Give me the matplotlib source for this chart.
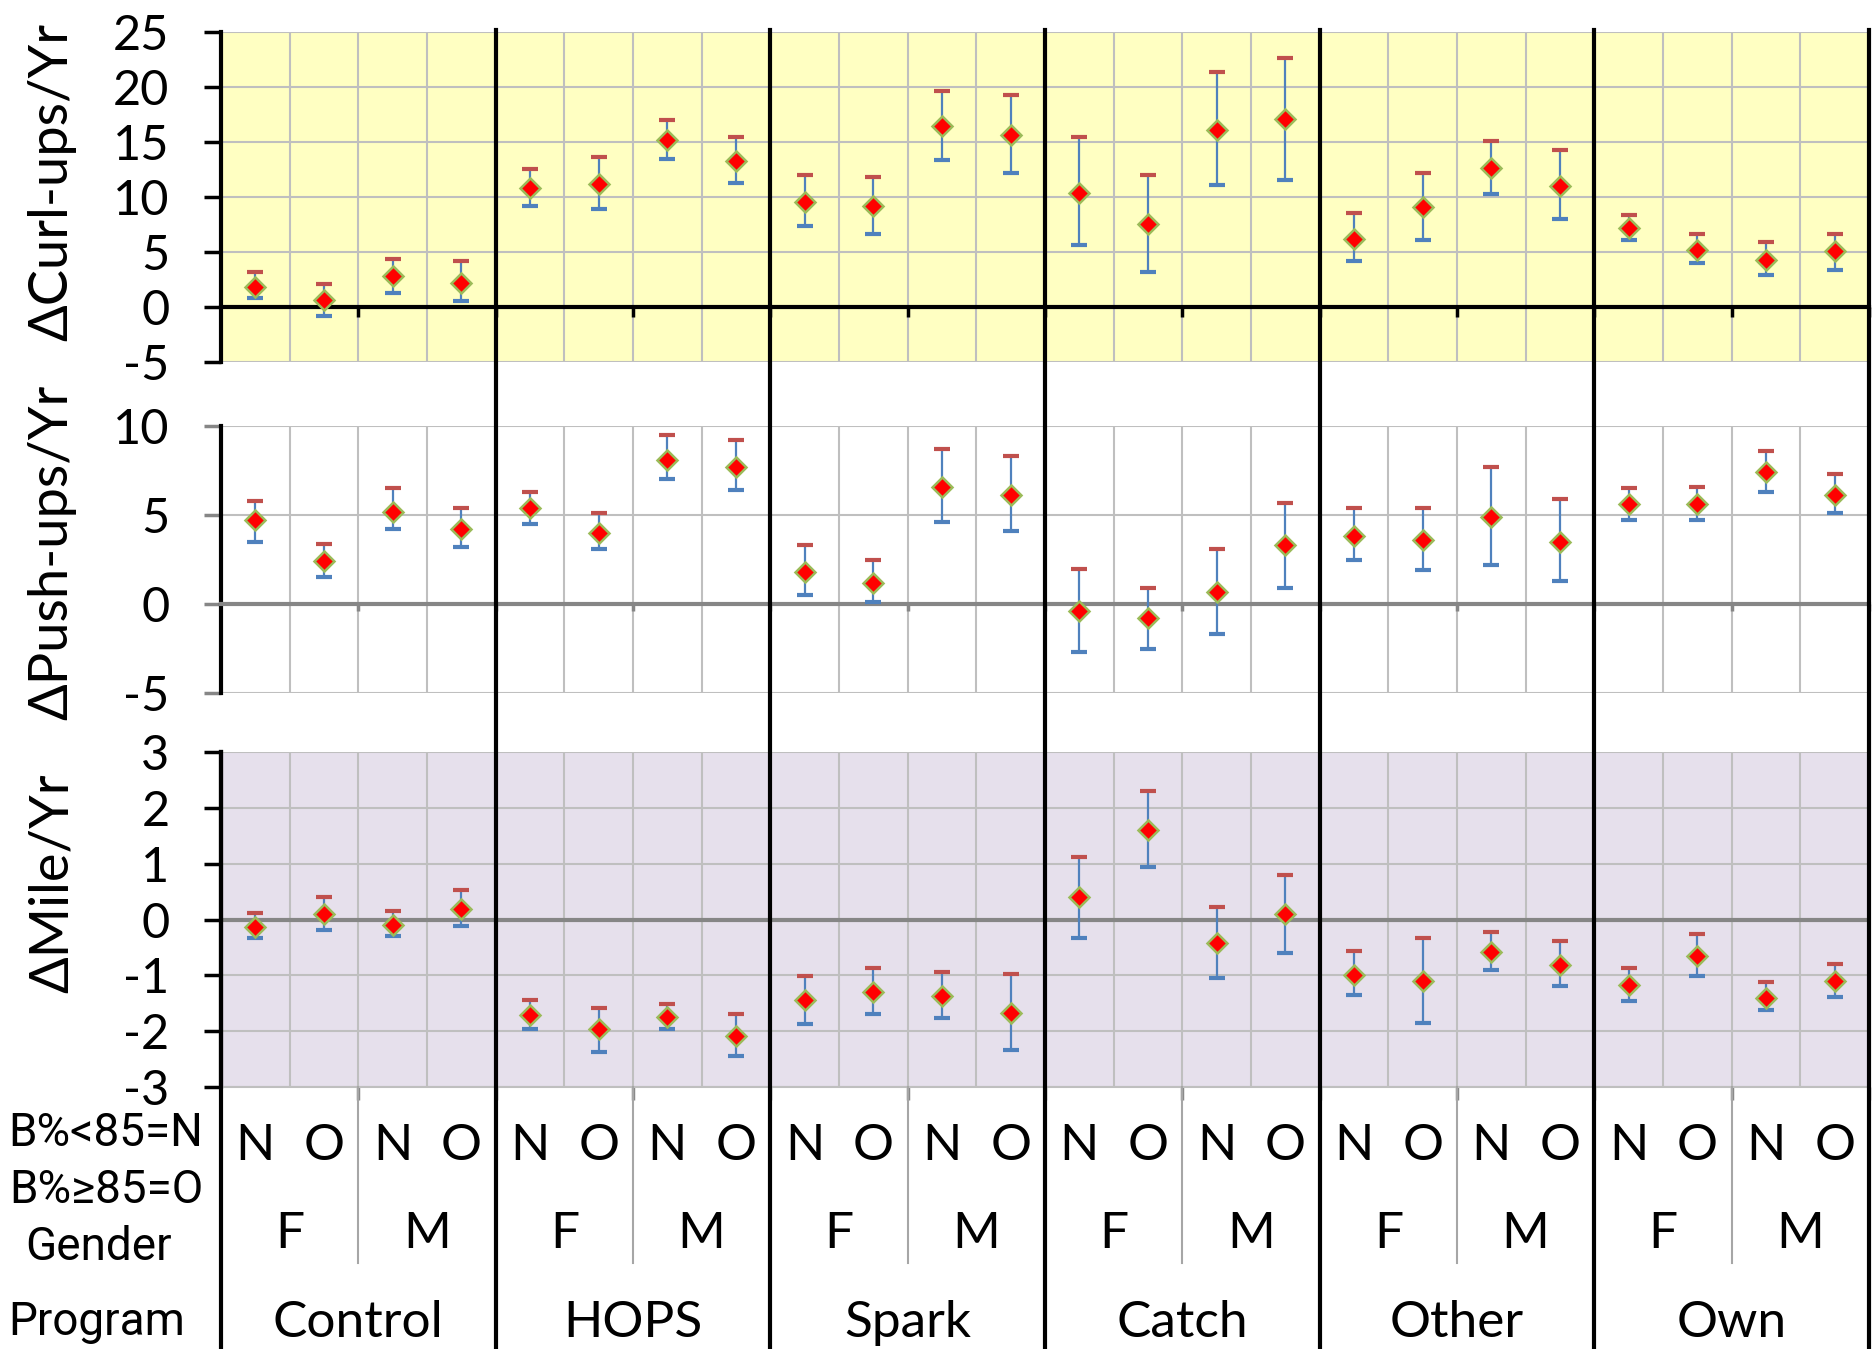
import matplotlib.pyplot as plt
import matplotlib.transforms as mtransforms
from matplotlib.lines import Line2D

plt.rcParams['axes.unicode_minus'] = False
plt.rcParams['font.family'] = ['Lato', 'DejaVu Sans']

# categories
programs = ['Control', 'HOPS', 'Spark', 'Catch', 'Other', 'Own']
genders = ['F', 'M']
bmi_groups = ['N', 'O']
row_labels = ['B%<85=N', 'B%\u226585=O', 'Gender', 'Program']

# change in curl-ups per year (mean, upper, lower)
curl_mean = [1.8, 0.7, 2.8, 2.2, 10.8, 11.2, 15.2, 13.3, 9.6, 9.2, 16.5, 15.7,
             10.4, 7.6, 16.1, 17.1, 6.2, 9.1, 12.7, 11.0, 7.2, 5.2, 4.3, 5.1]
curl_hi = [3.2, 2.1, 4.4, 4.2, 12.6, 13.7, 17.0, 15.5, 12.0, 11.8, 19.7, 19.3,
           15.5, 12.0, 21.4, 22.7, 8.6, 12.2, 15.1, 14.3, 8.4, 6.7, 5.9, 6.7]
curl_lo = [0.8, -0.8, 1.3, 0.6, 9.2, 8.9, 13.5, 11.3, 7.4, 6.7, 13.4, 12.2,
           5.7, 3.2, 11.1, 11.6, 4.2, 6.1, 10.3, 8.0, 6.1, 4.0, 2.9, 3.4]

# change in push-ups per year
push_mean = [4.7, 2.4, 5.2, 4.2, 5.4, 4.0, 8.1, 7.7, 1.8, 1.2, 6.6, 6.1,
             -0.4, -0.8, 0.7, 3.3, 3.8, 3.6, 4.9, 3.5, 5.6, 5.6, 7.4, 6.1]
push_hi = [5.8, 3.4, 6.5, 5.4, 6.3, 5.1, 9.5, 9.2, 3.3, 2.5, 8.7, 8.3,
           2.0, 0.9, 3.1, 5.7, 5.4, 5.4, 7.7, 5.9, 6.5, 6.6, 8.6, 7.3]
push_lo = [3.5, 1.5, 4.2, 3.2, 4.5, 3.1, 7.0, 6.4, 0.5, 0.1, 4.6, 4.1,
           -2.7, -2.5, -1.7, 0.9, 2.5, 1.9, 2.2, 1.3, 4.7, 4.7, 6.3, 5.1]

# change in mile time per year
mile_mean = [-0.13, 0.10, -0.10, 0.18, -1.71, -1.97, -1.75, -2.09, -1.45, -1.30, -1.37, -1.67,
             0.40, 1.61, -0.43, 0.10, -0.99, -1.11, -0.58, -0.81, -1.18, -0.66, -1.41, -1.11]
mile_hi = [0.11, 0.41, 0.15, 0.53, -1.44, -1.58, -1.51, -1.70, -1.02, -0.87, -0.94, -0.98,
           1.13, 2.30, 0.23, 0.80, -0.56, -0.34, -0.23, -0.38, -0.87, -0.26, -1.13, -0.79]
mile_lo = [-0.34, -0.19, -0.30, -0.11, -1.96, -2.37, -1.96, -2.45, -1.88, -1.69, -1.77, -2.34,
           -0.34, 0.94, -1.05, -0.60, -1.36, -1.85, -0.90, -1.20, -1.47, -1.02, -1.62, -1.39]

W, H = 1872, 1349
fig = plt.figure(figsize=(W / 100, H / 100), dpi=100)

X_LEFT, X_RIGHT = 221, 1869


def px_box(top, bottom):
    return [X_LEFT / W, 1 - bottom / H, (X_RIGHT - X_LEFT) / W, (bottom - top) / H]


n = len(programs) * len(genders) * len(bmi_groups)
xs = list(range(n))
bounds = [i - 0.5 for i in range(n + 1)]

GRID = '#BFBFBF'


def draw_panel(ax, mean, hi, lo, ylim, yticks, bg, zero_col, ytick_col, spine_y, xtick_len):
    ax.set_facecolor(bg)
    ax.set_xlim(-0.5, n - 0.5)
    ax.set_ylim(*ylim)
    ax.set_yticks(yticks)
    ax.set_xticks(bounds[2::2])
    ax.set_xticks(bounds, minor=True)
    ax.tick_params(axis='x', which='major', direction='out', length=xtick_len, width=2.5,
                   color=zero_col if spine_y == 0 else '#888888', labelbottom=False)
    ax.tick_params(axis='x', which='minor', length=0)
    ax.tick_params(axis='y', direction='out', length=12, width=2.5, color=ytick_col,
                   labelsize=35, pad=25)
    ax.set_axisbelow(True)
    ax.grid(axis='x', which='both', color=GRID, lw=1.5)
    ax.grid(axis='y', which='major', color=GRID, lw=1.5)
    for s in ['top', 'right']:
        ax.spines[s].set_visible(False)
    ax.spines['left'].set_linewidth(3)
    ax.spines['left'].set_color('black')
    ax.spines['bottom'].set_position(('data', spine_y))
    if spine_y == 0:
        ax.spines['bottom'].set_color(zero_col)
        ax.spines['bottom'].set_linewidth(3)
    else:
        ax.spines['bottom'].set_color(GRID)
        ax.spines['bottom'].set_linewidth(1.5)
        ax.axhline(0, color=zero_col, lw=3, zorder=2)
    ax.vlines(xs, lo, hi, color='#4F81BD', lw=1.6, zorder=3)
    ax.plot(xs, hi, ls='none', marker='_', ms=12, mew=3, color='#C0504D', zorder=4)
    ax.plot(xs, lo, ls='none', marker='_', ms=12, mew=3, color='#4F81BD', zorder=4)
    ax.plot(xs, mean, ls='none', marker='D', ms=10, mfc='#FF0000', mec='#9BBB59',
            mew=1.8, zorder=5)


ax1 = fig.add_axes(px_box(32.3, 362.3))
draw_panel(ax1, curl_mean, curl_hi, curl_lo, (-5, 25), range(-5, 26, 5), '#FFFFC2',
           'black', 'black', 0, 7)

ax2 = fig.add_axes(px_box(426, 693.3))
draw_panel(ax2, push_mean, push_hi, push_lo, (-5, 10), range(-5, 11, 5), 'white',
           '#868686', '#868686', 0, 5)

ax3 = fig.add_axes(px_box(752.3, 1086.7))
draw_panel(ax3, mile_mean, mile_hi, mile_lo, (-3, 3), range(-3, 4), '#E6E0EC',
           '#868686', 'black', -3, 9)

# y axis titles
fig.text(52 / W, 1 - 182 / H, '\u0394Curl-ups/Yr', rotation=90, ha='center', va='center', size=39)
fig.text(52 / W, 1 - 552 / H, '\u0394Push-ups/Yr', rotation=90, ha='center', va='center', size=39)
fig.text(52 / W, 1 - 883 / H, '\u0394Mile/Yr', rotation=90, ha='center', va='center', size=39)

# separators spanning the whole figure height
sep_tr = mtransforms.blended_transform_factory(ax3.transData, fig.transFigure)
group = len(genders) * len(bmi_groups)
for k in range(1, len(programs) + 1):
    x = k * group - 0.5
    fig.add_artist(Line2D([x, x], [1 - 30 / H, 0], transform=sep_tr, color='black', lw=3))
fig.add_artist(Line2D([-0.5, -0.5], [1 - 752 / H, 0], transform=sep_tr, color='black', lw=3))
for k in range(len(programs)):
    x = k * group + len(bmi_groups) - 0.5
    fig.add_artist(Line2D([x, x], [1 - 1087 / H, 1 - 1263 / H], transform=sep_tr,
                          color='#A6A6A6', lw=1.5))

# multi-level category labels
for p, prog in enumerate(programs):
    ax3.text(p * group + (group - 1) / 2, 1 - 1337 / H, prog, transform=sep_tr,
             ha='center', va='baseline', size=37)
    for g, gen in enumerate(genders):
        gx = p * group + g * len(bmi_groups)
        ax3.text(gx + (len(bmi_groups) - 1) / 2, 1 - 1248 / H, gen, transform=sep_tr,
                 ha='center', va='baseline', size=37)
        for b, bmi in enumerate(bmi_groups):
            ax3.text(gx + b, 1 - 1160 / H, bmi, transform=sep_tr,
                     ha='center', va='baseline', size=37)

narrow = ['Roboto', 'DejaVu Sans']
for lab, xc, yb in zip(row_labels, [106, 106, 99, 97], [1146, 1203, 1260, 1335]):
    fig.text(xc / W, 1 - yb / H, lab, ha='center', va='baseline', size=33, family=narrow)

fig.savefig('out.png', dpi=100)
